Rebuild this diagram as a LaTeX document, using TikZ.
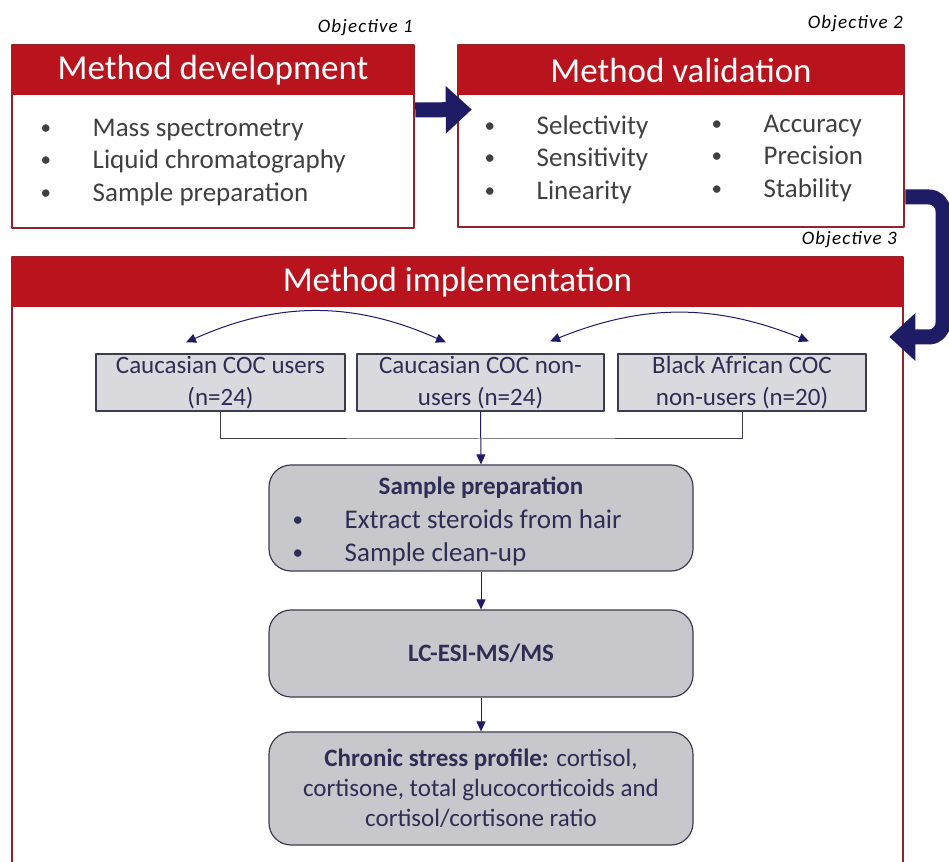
\documentclass[tikz,border=0pt]{standalone}
\usepackage{fontspec}
\setmainfont{Carlito}
\usetikzlibrary{arrows.meta}
\definecolor{hdred}{RGB}{185,20,30}
\definecolor{framered}{RGB}{145,35,45}
\definecolor{navy}{RGB}{30,28,100}
\definecolor{txtgray}{RGB}{64,64,64}
\definecolor{txtnavy}{RGB}{45,45,85}
\definecolor{boxgray}{RGB}{200,200,204}
\definecolor{grpgray}{RGB}{218,218,222}
\definecolor{edgegray}{RGB}{60,60,80}
\newcommand{\blt}{\makebox[54bp][l]{\hspace{2bp}\raisebox{0.08em}{\scalebox{0.78}{\textbullet}}}}
\begin{document}
\begin{tikzpicture}[>=latex,line join=bevel,
  objframe/.style={draw=framered,line width=2.5bp,fill=white,inner sep=0pt},
  objhead/.style={fill=hdred,text=white,inner sep=0pt,minimum height=50bp,font=\fontsize{35bp}{40bp}\selectfont},
  objlabel/.style={anchor=east,inner sep=0pt,text=black,font=\fontsize{19bp}{22bp}\selectfont\itshape\addfontfeature{LetterSpace=6}},
  bulletlist/.style={anchor=west,align=left,inner sep=0pt,text=txtgray,font=\fontsize{27bp}{32.5bp}\selectfont},
  grpbox/.style={draw=edgegray,fill=grpgray,line width=1.2bp,minimum width=248bp,minimum height=57bp,inner sep=0pt,align=center,text=txtnavy,font=\fontsize{25bp}{32bp}\selectfont},
  stepbox/.style={draw=edgegray,fill=boxgray,line width=1.2bp,rounded corners=22bp,minimum width=424bp,inner sep=0pt,text=txtnavy},
  bigarrow/.style={navy,line width=15bp,-{Triangle[length=26bp,width=46bp]}},
  thinarrow/.style={navy,line width=1bp,-{Triangle[length=10bp,width=9bp]}},
  twoway/.style={navy,line width=1bp,{Triangle[length=10bp,width=9bp]}-{Triangle[length=10bp,width=9bp]}},
]
\useasboundingbox (0bp,0bp) rectangle (949bp,862bp);
\fill [white] (0bp,0bp) rectangle (949bp,862bp);
%% objectives
\node (obj_one) at (413bp,834bp) [objlabel] {Objective 1};
\node (obj_two) at (903bp,838bp) [objlabel] {Objective 2};
\node (obj_three) at (897bp,622bp) [objlabel] {Objective 3};
%% frames
\node (dev_box) at (213bp,725.5bp) [objframe,minimum width=402bp,minimum height=183bp] {};
\node (dev_head) at (213bp,792bp) [objhead,minimum width=402bp] {Method development};
\node (val_box) at (681bp,726bp) [objframe,minimum width=446bp,minimum height=182bp] {};
\node (val_head) at (681bp,792bp) [objhead,minimum width=446bp] {Method validation};
\node (imp_box) at (457.5bp,298.5bp) [objframe,minimum width=891bp,minimum height=613bp] {};
\node (imp_head) at (457.5bp,580bp) [objhead,minimum width=891bp] {Method implementation};
%% lists
\node (dev_list) at (38.5bp,699.5bp) [bulletlist] {\blt Mass spectrometry\\\blt Liquid chromatography\\\blt Sample preparation};
\node (val_left) at (482.5bp,702.5bp) [bulletlist] {\blt Selectivity\\\blt Sensitivity\\\blt Linearity};
\node (val_right) at (709.5bp,703.5bp) [bulletlist] {\blt Accuracy\\\blt Precision\\\blt Stability};
%% groups
\node (grp_a) at (220.5bp,479.5bp) [grpbox,minimum width=249bp] {Caucasian COC users\\(n=24)};
\node (grp_b) at (480.5bp,479.5bp) [grpbox,minimum width=247bp] {Caucasian COC non-\\users (n=24)};
\node (grp_c) at (742bp,479.5bp) [grpbox] {Black African COC\\non-users (n=20)};
\coordinate (merge) at (480.5bp,423bp);
%% steps
\node (prep) at (481bp,344bp) [stepbox,minimum height=106bp] {};
\node (prep_title) at (481bp,374bp) [inner sep=0pt,text=txtnavy,font=\fontsize{25bp}{30bp}\selectfont\bfseries] {Sample preparation};
\node (prep_list) at (290.5bp,324.5bp) [bulletlist,text=txtnavy,font=\fontsize{27bp}{33bp}\selectfont] {\blt Extract steroids from hair\\\blt Sample clean-up};
\node (lcms) at (481bp,208.5bp) [stepbox,minimum height=87bp,font=\fontsize{25bp}{30bp}\selectfont\bfseries] {LC-ESI-MS/MS};
\node (stress) at (481bp,73.5bp) [stepbox,minimum height=113bp,align=center,font=\fontsize{25bp}{30bp}\selectfont] {\textbf{Chronic stress profile:} cortisol,\\cortisone, total glucocorticoids and\\cortisol/cortisone ratio};
%% connectors
\draw [edgegray,line width=1bp] (grp_a.south) |- (merge) -| (grp_c.south);
\draw [thinarrow] (grp_b.south) -- (prep.north);
\draw [thinarrow] (prep) -- (lcms);
\draw [thinarrow] (lcms) -- (stress);
\draw [twoway] ([shift={(-34.5bp,11bp)}]grp_a.north) to [bend left=24] ([shift={(-34.5bp,11bp)}]grp_b.north);
\draw [twoway] ([shift={(69.5bp,12bp)}]grp_b.north) to [bend left=22] ([shift={(67bp,12bp)}]grp_c.north);
\coordinate (loop_corner) at (943bp,525bp);
\draw [bigarrow] ([yshift=26.5bp]dev_box.east) -- ([shift={(15bp,26.5bp)}]val_box.west);
\draw [bigarrow,rounded corners=14bp] ([yshift=-61bp]val_box.east) -| (loop_corner) -- ([shift={(-15bp,226.5bp)}]imp_box.east);
%
\end{tikzpicture}
\end{document}
